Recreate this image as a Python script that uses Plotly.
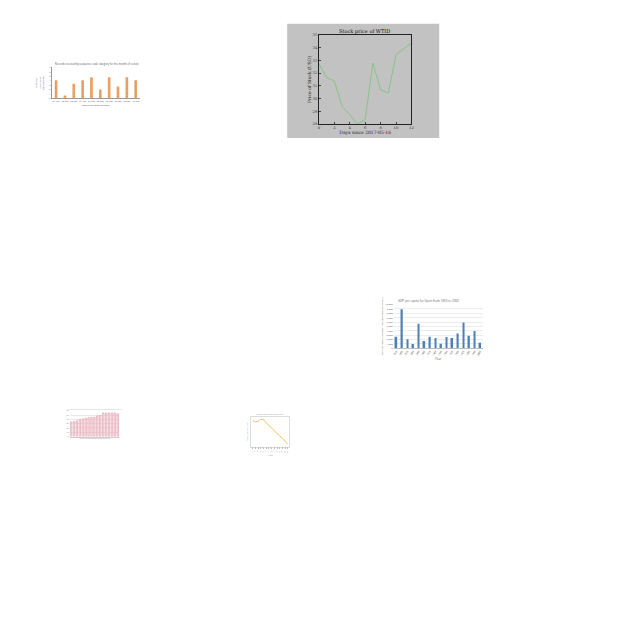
import plotly.graph_objects as go

W = H = 640

# ---------------- data ----------------
stock_days = list(range(13))
stock_price = [32.74, 31.64, 31.38, 29.38, 28.74, 28.0, 28.36, 32.77, 30.67, 30.44, 33.44, 33.9, 34.36]

orange_labels = ["01-100", "02-200", "03-300", "04-400", "05-500", "06-600", "07-700", "08-800", "09-900", "10-999"]
orange_values = [4.1, 0.6, 3.3, 4.1, 4.8, 2.0, 4.8, 2.7, 4.8, 4.1]

blue_years = ["1850", "1860", "1870", "1880", "1890", "1900", "1910", "1920", "1930", "1940",
              "1950", "1960", "1970", "1980", "1990", "2000"]
blue_values = [2650, 8940, 2050, 980, 5600, 1670, 2650, 2350, 1060, 2580, 2350, 3400, 5900, 2880, 3940, 1290]

pink_labels = [str(y) for y in range(2000, 2017)]
pink_values = [34, 35, 37, 40, 41, 43, 44, 45, 45, 48, 49, 55, 55, 55, 55, 55, 53]

yellow_x = list(range(1, 15))
yellow_values = [88, 82, 85, 92, 90, 78, 70, 62, 52, 44, 36, 26, 16, 8]


def dx(a, b):
    return [a / W, b / W]


def dy(top, bottom):
    return [1 - bottom / H, 1 - top / H]


def note(text, x, y, size, color, family=None):
    f = dict(size=size, color=color)
    if family:
        f["family"] = family
    return dict(text=text, x=x / W, y=1 - y / H, xref="paper", yref="paper",
                xanchor="center", yanchor="middle", showarrow=False, font=f)


fig = go.Figure()

# ---- stock chart (axes 1) ----
fig.add_trace(go.Scatter(x=stock_days, y=stock_price, mode="lines",
                         line=dict(color="#86c486", width=1), xaxis="x", yaxis="y",
                         showlegend=False))
# ---- orange bars (axes 2) ----
fig.add_trace(go.Bar(x=orange_labels, y=orange_values, xaxis="x2", yaxis="y2",
                     marker=dict(color="#e98a3c", line=dict(width=0),
                                 pattern=dict(shape=".", fgcolor="#d8701c", bgcolor="#f3b27a",
                                              size=2.5, solidity=0.6)),
                     width=0.3, showlegend=False))
# ---- blue bars (axes 3) ----
fig.add_trace(go.Bar(x=blue_years, y=blue_values, xaxis="x3", yaxis="y3",
                     marker=dict(color="#4b80b8", line=dict(width=0)),
                     width=0.3, showlegend=False))
# ---- pink bars (axes 4) ----
fig.add_trace(go.Bar(x=pink_labels, y=pink_values, xaxis="x4", yaxis="y4",
                     marker=dict(color="#fbe4e9", line=dict(color="#d9899b", width=0.5)),
                     width=0.5, showlegend=False))
# ---- yellow line (axes 5) ----
fig.add_trace(go.Scatter(x=yellow_x, y=yellow_values, mode="lines", xaxis="x5", yaxis="y5",
                         line=dict(color="#ebc25c", width=1), showlegend=False))

fig.update_layout(
    width=W, height=H, margin=dict(l=0, r=0, t=0, b=0),
    paper_bgcolor="white", plot_bgcolor="white",
    # stock
    xaxis=dict(domain=dx(320, 413), anchor="y", range=[0, 12], tickvals=list(range(0, 13, 2)),
               showgrid=False, zeroline=False, showline=True, linecolor="#222", linewidth=0.6,
               mirror=True, ticks="inside", ticklen=2, tickfont=dict(size=3.8, family="DejaVu Serif", color="#333"),
               title=dict(text="Days since 2017-05-16", font=dict(size=4.5, family="DejaVu Serif", color="#222"), standoff=1)),
    yaxis=dict(domain=dy(32, 122), anchor="x", range=[28, 35], tickvals=list(range(28, 36)),
               showgrid=False, zeroline=False, showline=True, linecolor="#222", linewidth=0.6,
               mirror=True, ticks="inside", ticklen=2, tickfont=dict(size=3.8, family="DejaVu Serif", color="#333"),
               title=dict(text="Price of Stock (USD)", font=dict(size=4.5, family="DejaVu Serif", color="#222"), standoff=1)),
    # orange
    xaxis2=dict(domain=dx(51, 140), anchor="y2", showgrid=False, zeroline=False, showline=True,
                linecolor="#999", linewidth=0.5, tickangle=0, tickfont=dict(size=2.2, color="#555"),
                title=dict(text="Sequence code category", font=dict(size=2.5, color="#555"), standoff=1)),
    yaxis2=dict(domain=dy(65, 96), anchor="x2", range=[0, 7], dtick=1, showgrid=False, zeroline=False,
                showline=True, linecolor="#999", linewidth=0.5, tickfont=dict(size=2.2, color="#555"),
                title=dict(text="Number<br>of records<br>(thousands)", font=dict(size=2.5, color="#555"), standoff=5)),
    # blue
    xaxis3=dict(domain=dx(395, 485), anchor="y3", showgrid=False, zeroline=False, showline=True,
                linecolor="#bbb", linewidth=0.5, tickangle=-60, tickfont=dict(size=2.4, color="#555"),
                title=dict(text="Year", font=dict(size=3, color="#555"), standoff=1)),
    yaxis3=dict(domain=dy(304, 348), anchor="x3", range=[0, 10000], dtick=1000, showgrid=True,
                gridcolor="#ececec", gridwidth=0.5, zeroline=False, tickformat=",",
                tickfont=dict(size=2.4, color="#555"),
                title=dict(text="GDP per capita (constant 1990 international dollars)", font=dict(size=2.4, color="#666"), standoff=2)),
    # pink
    xaxis4=dict(domain=dx(69, 119), anchor="y4", showgrid=False, zeroline=False, showline=True,
                linecolor="#ccc", linewidth=0.4, showticklabels=False,
                title=dict(text="Year of observation for the series", font=dict(size=2, color="#999"), standoff=1)),
    yaxis4=dict(domain=dy(411, 437), anchor="x4", range=[0, 60], dtick=10, showgrid=True,
                gridcolor="#f2e4e6", gridwidth=0.4, zeroline=False, tickfont=dict(size=2, color="#888")),
    # yellow
    xaxis5=dict(domain=dx(252, 290), anchor="y5", range=[0.5, 14.5], dtick=1, showgrid=False, zeroline=False,
                showline=True, linecolor="#ddd", linewidth=0.5, mirror=True, ticks="outside", ticklen=2,
                tickcolor="#bbb", tickfont=dict(size=2, color="#999"),
                title=dict(text="Week", font=dict(size=2.2, color="#999"), standoff=1)),
    yaxis5=dict(domain=dy(417, 447), anchor="x5", range=[0, 100], showgrid=False, zeroline=False,
                showline=True, linecolor="#ddd", linewidth=0.5, mirror=True, showticklabels=False,
                title=dict(text="Count of sightings", font=dict(size=2.2, color="#999"), standoff=2)),
    shapes=[
        dict(type="rect", xref="paper", yref="paper", x0=288 / W, x1=441 / W, y0=1 - 136 / H, y1=1 - 21 / H,
             fillcolor="#c2c2c2", line=dict(width=0), layer="below"),
    ],
    annotations=[
        note("Stock price of WTID", 366, 28.5, 5, "#111", "DejaVu Serif"),
        note("Records received by sequence code category for the month of review", 96, 61, 2.6, "#555"),
        note("GDP per capita for Spain from 1850 to 2000", 430, 300.5, 3, "#666"),
        note("Average annual output of the series across observed years", 94, 409.5, 2, "#bbb"),
        note("Weekly sightings over time", 271, 414.5, 2.2, "#999"),
    ],
)

fig.write_html("out.html")
